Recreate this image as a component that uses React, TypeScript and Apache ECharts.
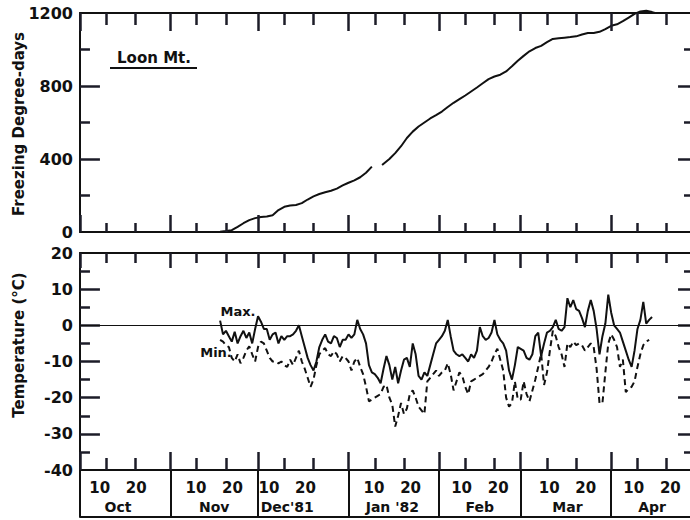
import React, { useEffect, useRef } from "react";
import * as echarts from "echarts";

// ---- calendar / axis data (days counted from 1 Oct 1981) ----
const monthStarts = [0, 31, 61, 92, 123, 151, 182];
const monthNames = ["Oct", "Nov", "Dec'81", "Jan '82", "Feb", "Mar", "Apr"];
const monthLabelDays = [13, 46, 71, 107, 137, 167, 196];
const dayMarks = [10, 20];
const axisLastDay = 209;

// ---- freezing degree-days (cumulative) ----
const fddDays = [44, 48, 50, 52, 54, 56, 58, 60, 62, 64, 66, 68, 70, 72, 74, 76, 78, 80, 82, 84, 86, 88, 90, 92, 94, 96, 98, 100, 102, 103.5, 106, 108, 110, 112, 114, 116, 118, 120, 122, 124, 126, 128, 130, 132, 134, 136, 138, 140, 142, 144, 146, 148, 150, 152, 154, 156, 158, 160, 162, 164, 166, 168, 170, 172, 174, 176, 178, 180, 182, 184, 186, 188, 190, 192, 194, 196, 197];
const fddValues = [0, 2, 5, 10, 28, 48, 65, 76, 82, 85, 92, 120, 138, 145, 148, 158, 178, 195, 208, 218, 226, 238, 255, 270, 283, 300, 325, 358, null, 367, 400, 432, 470, 515, 550, 578, 600, 622, 640, 660, 685, 708, 728, 748, 770, 792, 815, 838, 852, 862, 880, 908, 938, 965, 990, 1008, 1020, 1040, 1058, 1062, 1065, 1068, 1072, 1082, 1090, 1090, 1097, 1112, 1130, 1138, 1155, 1175, 1195, 1208, 1212, 1205, 1200];
const fddRange = [0, 1200, 400];

// ---- daily temperatures (°C), first value is day 48 (18 Nov) ----
const tempStartDay = 48;
const maxTemp = [
  1.3, -2.5, -1.5, -3, -4.5, -1.8, -5, -3, -1.5, -3.5, -2, -5, -1, 2.5, 1, -1, -1, -4, -2.5, -2, -5, -3, -4,
  -3, -3, -2.5, -1.5, 0, -3, -6, -9, -11, -12.5, -10, -6, -4, -2.5, -4.5, -5, -3, -3.5, -6, -4,
  -4, -2.5, -3.5, -2.5, 1.5, -1, -2.5, -5, -11, -13, -13.5, -14.5, -16, -12, -8.5, -11, -15, -11.5, -16, -12.5,
  -9.5, -9, -11.5, -5, -8, -14, -15, -13, -14, -11, -8, -5, -4, -3, -1.5, 1.5, -3, -7, -8, -8.5, -8, -9, -10,
  -8, -9, -7, -0.5, -3, -4, -3.5, -2, 1.5, -2.5, -4, -5, -7, -12.5, -15, -11, -6, -6.5, -7, -9, -9.5, -8,
  -3, -2, -8.5, -5, -2, -1.5, -0.5, 1.5, -1, -1.5, -0.5, 7.5, 5, 7, 4.5, 4, 2, -0.5, 4, 7, 4, -1, -8, -3,
  0.5, 8.5, 3.5, 0, -1, -2, -4.5, -7, -9.5, -11.5, -7, -1, 1.5, 6.5, 0.5, 1.5, 2.3,
];
const minTemp = [
  -4, -4.5, -5.5, -6, -9, -10, -8, -10.5, -9, -7, -5.8, -8, -10, -6, -4.5, -5, -7, -9, -10, -10, -10.5, -10, -11,
  -11.5, -9.5, -11, -9, -7, -10, -12, -14.5, -17, -15, -11, -8, -7, -6.3, -8, -8.5, -7.2, -8, -10, -8.5,
  -9, -10, -12.5, -10, -9, -11.5, -13.5, -17, -21, -20.5, -20, -19.5, -19, -17, -16.5, -20, -22, -28, -25, -21.5,
  -24.5, -23, -19, -18, -20, -22.5, -23.5, -24.5, -15.5, -14.5, -13.5, -12.5, -14, -13, -12.5, -10.5, -13.5, -18,
  -15.5, -13, -14, -17, -19, -15.5, -15, -14.5, -14, -13.5, -12.5, -11.5, -10, -8, -6.5, -9.5, -12.5, -20, -22.5,
  -21.5, -15.5, -20.5, -20.5, -15.5, -19, -21, -18, -15, -11.5, -7.8, -16.5, -13, -7, -1.5, -3, -6, -8, -11.5,
  -5, -6, -4.5, -5.5, -5, -5.5, -7, -6, -5, -6, -12, -21.5, -21.5, -13, -5, -2.5, -4, -6, -11.5, -9.5, -18.5,
  -17.5, -17, -15.5, -11.5, -8, -5.5, -4.5, -4,
];
const tempRange = [-40, 20, 10];

const ink = "#111";
const tickInk = "#1c1c28";
const font = "DejaVu Sans";

// layout constants (pixels)
const PLOT_LEFT = 80;
const PLOT_W = 612;
const TOP_GRID = { top: 13, height: 219 };
const BOT_GRID = { top: 253, height: 217 };
const BOX_H = 47;

const dayCats = Array.from({ length: axisLastDay + 1 }, (_, i) => String(i));
const dayMarkDays = monthStarts.flatMap((s) => dayMarks.map((d) => s + d - 1));

type Lens = { mB: number; dB: number; mT: number; dT: number };
// inward tick marks, drawn as marker segments in data coordinates
function tickLines(range: number[], gridH: number, L: Lens) {
  const [mn, mx, step] = range;
  const yu = (mx - mn) / gridH;
  const xu = axisLastDay / PLOT_W;
  const seg = (a: number[], b: number[]) => [{ coord: a }, { coord: b }];
  const out: any[] = [];
  monthStarts.forEach((d) => {
    out.push(seg([d, mn], [d, mn + L.mB * yu]));
    out.push(seg([d, mx], [d, mx - L.mT * yu]));
  });
  dayMarkDays.forEach((d) => {
    out.push(seg([d, mn], [d, mn + L.dB * yu]));
    out.push(seg([d, mx], [d, mx - L.dT * yu]));
  });
  for (let v = mn + step; v < mx; v += step) {
    out.push(seg([0, v], [20 * xu, v]));
    out.push(seg([axisLastDay, v], [axisLastDay - 12 * xu, v]));
  }
  for (let v = mn + step / 2; v < mx; v += step) {
    out.push(seg([0, v], [10 * xu, v]));
    out.push(seg([axisLastDay, v], [axisLastDay - 6 * xu, v]));
  }
  return out;
}

function markerSeries(axisIdx: number, anchor: number[], lines: any[], color: string, width = 2) {
  return {
    type: "line",
    xAxisIndex: axisIdx,
    yAxisIndex: axisIdx,
    data: [anchor],
    showSymbol: false,
    silent: true,
    z: 10,
    color,
    lineStyle: { color, opacity: 0 },
    markLine: {
      silent: true,
      symbol: ["none", "none"],
      label: { show: false },
      emphasis: { disabled: true },
      lineStyle: { color, width, type: "solid", opacity: 1 },
      data: lines,
    },
  };
}

function frameX(gridIndex: number, position: string) {
  return {
    type: "value",
    gridIndex,
    position,
    min: 0,
    max: axisLastDay,
    axisLine: { show: true, onZero: false, lineStyle: { color: ink, width: 2 } },
    axisTick: { show: false },
    axisLabel: { show: false },
    splitLine: { show: false },
  };
}

function yAx(gridIndex: number, range: number[], right: boolean, labels = true) {
  return {
    type: "value",
    gridIndex,
    min: range[0],
    max: range[1],
    interval: range[2],
    position: right ? "right" : "left",
    axisLine: { show: !right && labels, onZero: false, lineStyle: { color: ink, width: 2 } },
    axisTick: { show: false },
    axisLabel: {
      show: !right && labels,
      color: ink,
      fontFamily: font,
      fontWeight: "bold",
      fontSize: 16,
      margin: 7,
      formatter: (v: number) => String(v),
    },
    splitLine: { show: false },
  };
}

export default function App() {
  const ref = useRef<HTMLDivElement>(null);
  useEffect(() => {
    if (!ref.current) return;
    const chart = echarts.init(ref.current, null, { renderer: "svg" });
    const fddData = fddDays.map((d, i) => [d, fddValues[i] === null ? "-" : fddValues[i]]);
    const maxData = maxTemp.map((v, i) => [tempStartDay + i, v]);
    const minData = minTemp.map((v, i) => [tempStartDay + i, v]);
    const boxSeparators = monthStarts.map((d) => [{ coord: [d, 0] }, { coord: [d, 1] }]);

    chart.setOption({
      animation: false,
      backgroundColor: "#fff",
      grid: [
        { left: PLOT_LEFT, width: PLOT_W, ...TOP_GRID },
        { left: PLOT_LEFT, width: PLOT_W, ...BOT_GRID },
        { left: PLOT_LEFT, width: PLOT_W, top: BOT_GRID.top + BOT_GRID.height, height: BOX_H },
      ],
      xAxis: [
        frameX(0, "bottom"),
        frameX(1, "bottom"),
        frameX(2, "bottom"),
        frameX(0, "top"),
        frameX(1, "top"),
        {
          type: "category",
          gridIndex: 1,
          position: "bottom",
          data: dayCats,
          boundaryGap: false,
          axisLine: { show: false, onZero: false },
          axisTick: { show: false },
          splitLine: { show: false },
          axisLabel: {
            show: true,
            hideOverlap: false,
            interval: (i: number) => monthLabelDays.includes(Number(i)),
            margin: 8,
            formatter: (v: string) => {
              const k = monthLabelDays.indexOf(Number(v));
              return `{a|${dayMarks.join("   ")}}\n{b|${monthNames[k]}}`;
            },
            rich: {
              a: { fontFamily: font, fontWeight: "bold", fontSize: 15, color: ink, lineHeight: 19 },
              b: { fontFamily: font, fontWeight: "bold", fontSize: 14, color: ink, lineHeight: 19 },
            },
          },
        },
      ],
      yAxis: [
        yAx(0, fddRange, false),
        yAx(1, tempRange, false),
        yAx(2, [0, 1, 1], false, false),
        yAx(0, fddRange, true),
        yAx(1, tempRange, true),
      ],
      graphic: [
        {
          type: "text",
          x: 19,
          y: 124,
          rotation: Math.PI / 2,
          style: { text: "Freezing Degree-days", fill: ink, font: `bold 15px ${font}`, align: "center", verticalAlign: "middle" },
        },
        {
          type: "text",
          x: 19,
          y: 345,
          rotation: Math.PI / 2,
          style: { text: "Temperature (°C)", fill: ink, font: `bold 15px ${font}`, align: "center", verticalAlign: "middle" },
        },
        {
          type: "text",
          x: 154,
          y: 58,
          style: { text: "Loon Mt.", fill: ink, font: `bold 15px ${font}`, align: "center", verticalAlign: "middle" },
        },
        { type: "line", shape: { x1: 110, y1: 68, x2: 197, y2: 68 }, style: { stroke: ink, lineWidth: 2 } },
        {
          type: "text",
          x: 238,
          y: 311,
          style: { text: "Max.", fill: ink, font: `bold 13px ${font}`, align: "center", verticalAlign: "middle" },
        },
        {
          type: "text",
          x: 216,
          y: 352,
          style: { text: "Min.", fill: ink, font: `bold 13px ${font}`, align: "center", verticalAlign: "middle" },
        },
      ],
      series: [
        markerSeries(0, [100, 600], tickLines(fddRange, TOP_GRID.height, { mB: 17, dB: 9, mT: 18, dT: 12 }), tickInk, 2.5),
        markerSeries(1, [100, 0], tickLines(tempRange, BOT_GRID.height, { mB: 18, dB: 12, mT: 15, dT: 10 }), tickInk, 2.5),
        markerSeries(2, [100, 0.5], boxSeparators, ink),
        {
          type: "line",
          xAxisIndex: 0,
          yAxisIndex: 0,
          data: fddData,
          showSymbol: false,
          connectNulls: false,
          clip: false,
          lineStyle: { color: ink, width: 2 },
        },
        {
          type: "line",
          xAxisIndex: 1,
          yAxisIndex: 1,
          data: maxData,
          showSymbol: false,
          lineStyle: { color: ink, width: 2 },
          markLine: {
            silent: true,
            symbol: ["none", "none"],
            label: { show: false },
            lineStyle: { color: ink, width: 1, type: "solid" },
            data: [{ yAxis: 0 }],
          },
        },
        {
          type: "line",
          xAxisIndex: 1,
          yAxisIndex: 1,
          data: minData,
          showSymbol: false,
          lineStyle: { color: ink, width: 2, type: [6, 4] },
        },
      ],
    });
    return () => chart.dispose();
  }, []);
  return <div ref={ref} style={{ position: "absolute", left: 0, top: 0, width: 690, height: 520 }} />;
}
